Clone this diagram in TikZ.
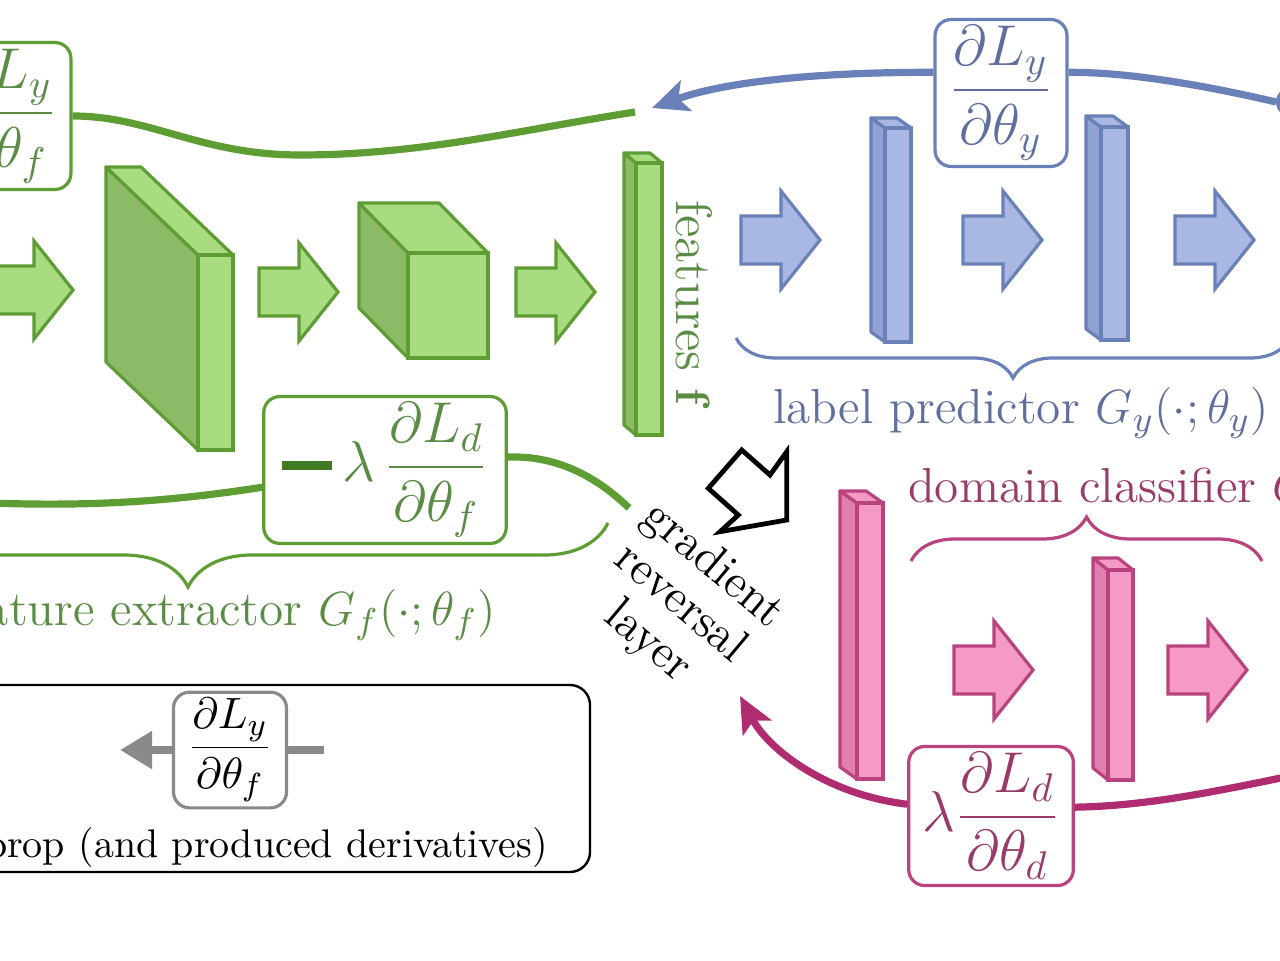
\documentclass[tikz,border=0pt]{standalone}
\usepackage{amsmath}
\usepackage{xcolor}
\usepackage{tikz}
\usetikzlibrary{positioning, arrows.meta, decorations.pathreplacing}
\definecolor{gfill}{HTML}{A9DB80}
\definecolor{gdark}{HTML}{8DBA67}
\definecolor{gline}{HTML}{5E9D34}
\definecolor{gtext}{HTML}{5B8C45}
\definecolor{gdeep}{HTML}{3F7A25}
\definecolor{bfill}{HTML}{A9B8E2}
\definecolor{bdark}{HTML}{8FA2D2}
\definecolor{bline}{HTML}{6A80B8}
\definecolor{btext}{HTML}{5F6E9E}
\definecolor{pfill}{HTML}{F59AC6}
\definecolor{pdark}{HTML}{E07FB0}
\definecolor{pline}{HTML}{B8437F}
\definecolor{ptext}{HTML}{983A6A}
\definecolor{pcurve}{HTML}{B02C70}
\definecolor{lgray}{HTML}{8A8A8A}

% layer as a box: prefix, front x, front y, width, height, depth dx, depth dy
\newcommand{\layerblock}[7]{%
  \filldraw[fill=#1dark, draw=#1line, line width=0.8pt, line join=round]
    (#2,#3) -- ({#2-#6},{#3-#7}) -- ({#2-#6},{#3+#5-#7}) -- (#2,{#3+#5}) -- cycle;
  \filldraw[fill=#1fill, draw=#1line, line width=0.8pt, line join=round]
    (#2,#3) -- ({#2-#6},{#3-#7}) -- ({#2+#4-#6},{#3-#7}) -- ({#2+#4},#3) -- cycle;
  \filldraw[fill=#1fill, draw=#1line, line width=0.8pt]
    (#2,#3) rectangle ({#2+#4},{#3+#5});}
% fat arrow: prefix, tail x, centre y
\newcommand{\fatarrow}[3]{%
  \filldraw[fill=#1fill, draw=#1line, line width=0.8pt]
    (#2,{#3-24}) -- ({#2+40},{#3-24}) -- ({#2+40},{#3-49}) -- ({#2+79},#3)
    -- ({#2+40},{#3+49}) -- ({#2+40},{#3+24}) -- (#2,{#3+24}) -- cycle;}

\tikzset{
  fracbox/.style={draw, rounded corners=4pt, line width=0.8pt, fill=white,
    inner xsep=3.5pt, inner ysep=1.5pt, font=\Large},
  flow/.style={line width=1.8pt},
  tip/.style={-{Stealth[length=9pt, width=8pt, inset=2pt]}},
  grp/.style={line width=0.8pt, decorate, decoration={brace, amplitude=#1}},
  lbl/.style={font=\fontsize{12.3}{15}\selectfont}
}

\begin{document}
\begin{tikzpicture}[x=0.25pt, y=-0.25pt]
  \useasboundingbox (0,0) rectangle (1280,960);

  % feature extractor
  \fatarrow{g}{-6}{290}
  \layerblock{g}{198}{255}{35}{195}{92}{88}
  \fatarrow{g}{259}{292}
  \layerblock{g}{408}{253}{80}{105}{49}{50}
  \fatarrow{g}{516}{292}
  \layerblock{g}{636}{163}{26}{272}{12}{10}
  \node[lbl, rotate=-90, text=gtext, font=\fontsize{12.8}{15}\selectfont] (feat)
    at (694,305) {features $\mathbf{f}$};

  % label predictor
  \fatarrow{b}{741}{240}
  \layerblock{b}{885}{128}{26}{214}{14}{10}
  \fatarrow{b}{963}{240}
  \layerblock{b}{1101}{127}{27}{213}{15}{11}
  \fatarrow{b}{1175}{240}

  % domain classifier
  \layerblock{p}{857}{503}{26}{276}{17}{12}
  \fatarrow{p}{954}{670}
  \layerblock{p}{1108}{570}{25}{210}{15}{12}
  \fatarrow{p}{1168}{670}

  % derivative boxes
  \node[fracbox, draw=gline, text=gtext] (lyf) at (5,116)
    {$\dfrac{\partial L_y}{\partial\theta_f}$};
  \node[fracbox, draw=gline, text=gtext, inner xsep=4.5pt] (ldf) at (385,470)
    {$\textcolor{gdeep}{\rule[0.2em]{0.88em}{0.15em}}\,\lambda\,\dfrac{\partial L_d}{\partial\theta_f}$};
  \node[fracbox, draw=bline, text=btext] (lyy) at (1001,93)
    {$\dfrac{\partial L_y}{\partial\theta_y}$};
  \node[fracbox, draw=pline, text=ptext] (lpd) at (991,816)
    {$\lambda\dfrac{\partial L_d}{\partial\theta_d}$};
  \node[circle, draw=bline, line width=1pt, fill=white, minimum size=7pt,
        inner sep=0pt] (ly) at (1292,102) {};

  % backprop curves
  \coordinate (gtop) at (635,112);
  \coordinate (gcur) at (629,508);
  \coordinate (gleft) at (-10,503);
  \coordinate (btip) at (652,108);
  \coordinate (pend) at (1295,775);
  \coordinate (ptip) at (740,696);
  \draw[flow, gline] (gtop) .. controls (520,130) and (420,155) .. (300,155)
    .. controls (200,155) and (150,116) .. (lyf.east);
  \draw[flow, gline] (gcur) .. controls (600,480) and (560,455) .. (ldf.6);
  \draw[flow, gline] (ldf.188) .. controls (180,500) and (100,507) .. (gleft);
  \draw[flow, bline] (ly.west) .. controls (1190,82) and (1120,72) .. (lyy.17);
  \draw[flow, bline, tip] (lyy.163) .. controls (830,72) and (730,80) .. (btip);
  \draw[flow, pcurve] (pend) .. controls (1200,795) and (1140,806) .. (lpd.6);
  \draw[flow, pcurve, tip] (lpd.172) .. controls (830,795) and (770,752) .. (ptip);

  % braces and labels
  \draw[grp=16pt, gline] (608,523) -- (-232,523);
  \draw[grp=10pt, bline] (1290,338) -- (736,338);
  \draw[grp=11pt, pline] (911,561) -- (1262,561);
  \node[lbl, text=gtext, anchor=east] (fel) at (510,615)
    {feature extractor $G_f(\cdot;\theta_f)$};
  \node[lbl, text=btext] (lpl) at (1021,413)
    {label predictor $G_y(\cdot;\theta_y)$};
  \node[lbl, text=ptext, anchor=west] (dcl) at (894,490)
    {domain classifier $G_d(\cdot;\theta_d)$};

  % gradient reversal layer
  \draw[line width=1.2pt, fill=white] (741.7,450) -- (770,475) -- (786.7,451.7)
    -- (786.7,520) -- (720,531.7) -- (738.3,515) -- (708.3,488.3) -- cycle;
  \node[rotate=-40, align=center, font=\fontsize{12}{12.5}\selectfont] (grl)
    at (680,604) {gradient\\reversal\\layer};

  % legend
  \draw[rounded corners=5pt, line width=0.6pt] (-300,685) rectangle (590,872);
  \node[fracbox, draw=lgray, font=\fontsize{11}{13}\selectfont] (lgd) at (230,750)
    {$\dfrac{\partial L_y}{\partial\theta_f}$};
  \coordinate (lgr) at (324,750);
  \coordinate (lgl) at (120,750);
  \draw[line width=2.2pt, lgray] (lgr) -- (lgd.east);
  \draw[line width=2.2pt, lgray, -{Triangle[length=8pt, width=9pt]}] (lgd.west) -- (lgl);
  \node[font=\normalsize, anchor=east] (bpl) at (562,847)
    {backprop (and produced derivatives)};
\end{tikzpicture}
\end{document}
